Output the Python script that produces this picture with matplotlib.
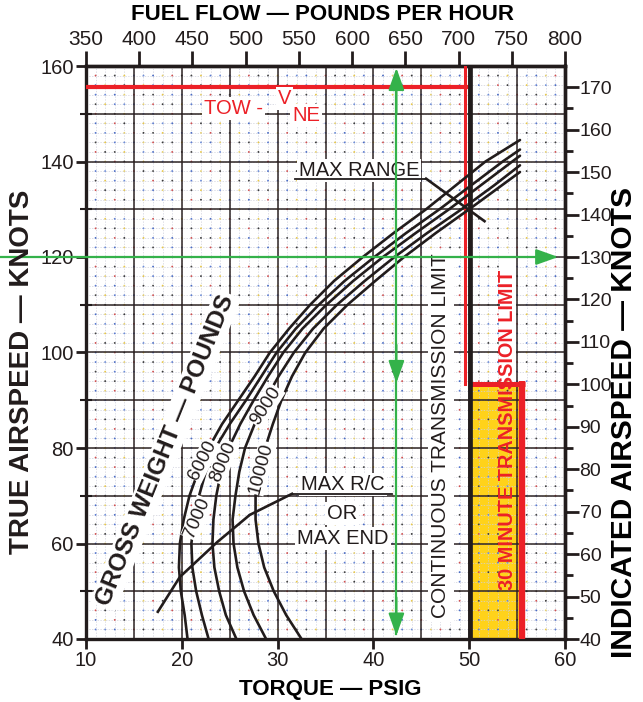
import matplotlib
matplotlib.use("Agg")
import matplotlib.pyplot as plt
import numpy as np
from matplotlib.patches import Rectangle

plt.rcParams['font.family'] = ['Liberation Sans', 'DejaVu Sans']

# ---------------- data ----------------
# gross-weight power curves: torque (psig) at each true airspeed (kt)
tas_6000 = [40, 45, 50, 55, 60, 65, 70, 75, 80, 85, 90, 95, 100, 105, 110, 115, 120, 125, 130, 135, 140, 144.5]
torque_6000 = [20.6, 20.3, 19.9, 19.7, 19.8, 20.2, 20.8, 21.7, 22.8, 24.2, 25.9, 27.6, 29.2, 31.2, 33.4, 35.9, 38.9, 42.1, 45.5, 48.6, 51.7, 55.3]
tas_7000 = [40, 45, 50, 55, 60, 65, 70, 75, 80, 85, 90, 95, 100, 105, 110, 115, 120, 125, 130, 135, 140, 142.5]
torque_7000 = [22.8, 22.1, 21.5, 21.1, 21.0, 21.3, 21.8, 22.5, 23.5, 25.0, 26.7, 28.3, 29.9, 31.9, 34.3, 37.0, 40.1, 43.4, 46.9, 50.2, 53.5, 55.3]
tas_8000 = [40, 45, 50, 55, 60, 65, 70, 75, 80, 85, 90, 95, 100, 105, 110, 115, 120, 125, 130, 135, 140, 141.2]
torque_8000 = [25.7, 24.6, 23.9, 23.4, 23.2, 23.3, 23.6, 24.1, 24.9, 26.1, 27.5, 29.0, 30.6, 32.6, 35.1, 37.9, 41.0, 44.4, 47.9, 51.2, 54.5, 55.3]
tas_9000 = [40, 45, 50, 55, 60, 65, 70, 75, 80, 85, 90, 95, 100, 105, 110, 115, 120, 125, 130, 135, 139.2]
torque_9000 = [28.8, 27.5, 26.5, 25.8, 25.4, 25.3, 25.6, 26.0, 26.6, 27.6, 28.7, 30.1, 31.7, 33.7, 36.2, 39.1, 42.2, 45.6, 49.2, 52.6, 55.3]
tas_10000 = [40, 45, 50, 55, 60, 65, 70, 75, 80, 85, 90, 95, 100, 105, 110, 115, 120, 125, 130, 135, 137.8]
torque_10000 = [32.5, 30.9, 29.6, 28.6, 28.0, 27.7, 27.7, 28.1, 28.7, 29.5, 30.4, 31.5, 32.9, 34.8, 37.3, 40.2, 43.2, 46.5, 50.0, 53.4, 55.3]

weight_labels = ["6000", "7000", "8000", "9000", "10000"]

# optimum-speed lines
max_rc_torque = [17.5, 19.8, 23.7, 27.1, 31.5]
max_rc_tas = [45.7, 53.0, 60.3, 66.0, 70.4]
max_range_torque = [45.5, 51.6]
max_range_tas = [136.4, 127.5]

# limits
vne_ias = 170
continuous_limit_torque = 50
thirty_min_limit_torque = 55.5
thirty_min_limit_ias = 100

# worked example
example_tas = 120
example_torque = 42.4

# axis ticks
torque_ticks = [10, 20, 30, 40, 50, 60]
tas_ticks = [40, 60, 80, 100, 120, 140, 160]
fuel_flow_ticks = [350, 400, 450, 500, 550, 600, 650, 700, 750, 800]
ias_ticks = [40, 50, 60, 70, 80, 90, 100, 110, 120, 130, 140, 150, 160, 170]


# scale conversions
def torque_to_ff(q):
    return 350 + 9.0 * (np.asarray(q) - 10)


def ff_to_torque(f):
    return 10 + (np.asarray(f) - 350) / 9.0


def tas_to_ias(t):
    return 40 + 1.125 * (np.asarray(t) - 40)


def ias_to_tas(i):
    return 40 + (np.asarray(i) - 40) / 1.125


INK = '#221c1c'
RED = '#ec2027'
GREEN = '#34b24a'
YELLOW = '#ffd21a'

fig = plt.figure(figsize=(6.43, 7.02), dpi=100)
ax = fig.add_axes([86 / 643, 63 / 702, 479 / 643, 573 / 702])
ax.set_xlim(10, 60)
ax.set_ylim(40, 160)

# ---- 30-minute transmission area ----
box_top = float(ias_to_tas(thirty_min_limit_ias))
ax.add_patch(Rectangle((continuous_limit_torque, 40), thirty_min_limit_torque - continuous_limit_torque,
                       box_top - 40, facecolor=YELLOW, edgecolor='none', zorder=0.5))

# ---- grid ----
for q in np.arange(10, 61, 1):
    ax.axvline(q, color='#cfd0dc', lw=0.5, ls=(0, (2, 2)), zorder=1)
for t in np.arange(40, 161, 2):
    ax.axhline(t, color='#cfd0dc', lw=0.5, ls=(0, (2, 2)), zorder=1)
gx, gy = np.meshgrid(np.arange(10, 61, 1), np.arange(40, 161, 2))
palette = np.array(['#3a3a3a', '#4a6cc4', '#e8c84a', '#d05050', '#6f8fd8', '#444444', '#e6d070', '#5b7bd0'])
idx = (np.arange(gx.size) * 5 + (np.arange(gx.size) // gx.shape[1]) * 3) % len(palette)
ax.scatter(gx.ravel(), gy.ravel(), s=1.8, c=palette[idx], marker='o', linewidths=0, zorder=1.2)
for q in np.arange(15, 60, 5):
    ax.axvline(q, color='#2e2424', lw=1.1, zorder=1.5)
for t in np.arange(50, 160, 10):
    ax.axhline(t, color='#2e2424', lw=1.1, zorder=1.5)

# ---- limit lines ----
vne_tas = float(ias_to_tas(vne_ias))
ax.plot([10, continuous_limit_torque], [vne_tas, vne_tas], color=RED, lw=3.0, zorder=3, solid_capstyle='butt')
ax.plot([continuous_limit_torque - 0.4] * 2, [box_top, 160], color=RED, lw=2.2, zorder=3)
ax.plot([continuous_limit_torque + 0.05] * 2, [40, 160], color=INK, lw=3.4, zorder=3.2)
ax.plot([continuous_limit_torque, thirty_min_limit_torque + 0.35], [box_top, box_top], color=RED, lw=3.6,
        zorder=3, solid_capstyle='butt')
ax.plot([thirty_min_limit_torque] * 2, [40, box_top + 0.6], color=RED, lw=4.6, zorder=3, solid_capstyle='butt')

# ---- gross-weight curves ----
curves = [(torque_6000, tas_6000), (torque_7000, tas_7000), (torque_8000, tas_8000),
          (torque_9000, tas_9000), (torque_10000, tas_10000)]
for q, t in curves:
    ax.plot(q, t, color=INK, lw=1.9, zorder=3, solid_capstyle='round')

ax.plot(max_rc_torque, max_rc_tas, color=INK, lw=1.9, zorder=3)
ax.plot(max_range_torque, max_range_tas, color=INK, lw=1.9, zorder=3)

# ---- example path (green) ----
arrow = dict(arrowstyle='-|>,head_length=0.9,head_width=0.32', color=GREEN, lw=1.6,
             mutation_scale=15, shrinkA=0, shrinkB=0)
ax.annotate('', xy=(59.3, example_tas), xytext=(1.0, example_tas), xycoords='data',
            arrowprops=arrow, annotation_clip=False, zorder=5)
ax.plot([example_torque] * 2, [41, 156], color=GREEN, lw=1.6, zorder=5)
ax.annotate('', xy=(example_torque, 159.6), xytext=(example_torque, 150), xycoords='data',
            arrowprops=arrow, zorder=5)
for tip in (93.6, 40.7):
    ax.annotate('', xy=(example_torque, tip), xytext=(example_torque, tip + 8), xycoords='data',
                arrowprops=arrow, zorder=5)

# ---- annotations ----
white = dict(facecolor='white', edgecolor='none', pad=1.5)
ax.text(25.4, 151.2, 'TOW -', color=RED, fontsize=14.5, ha='center', va='center', bbox=white, zorder=4)
ax.text(30.7, 153.1, 'V', color=RED, fontsize=14.5, ha='center', va='center', bbox=white, zorder=4)
ax.text(33.0, 149.7, 'NE', color=RED, fontsize=14.5, ha='center', va='center', bbox=white, zorder=4)

ax.text(38.5, 138.2, 'MAX RANGE', color=INK, fontsize=14.5, ha='center', va='center', bbox=white, zorder=4)
ax.plot([31.8, 45.5], [136.4, 136.4], color=INK, lw=1.3, zorder=4.5)

ax.text(36.8, 72.3, 'MAX R/C', color=INK, fontsize=14.5, ha='center', va='center', bbox=white, zorder=4)
ax.plot([31.5, 41.9], [70.4, 70.4], color=INK, lw=1.3, zorder=4.5)
ax.text(36.7, 66.3, 'OR', color=INK, fontsize=14.5, ha='center', va='center', bbox=white, zorder=4)
ax.text(36.8, 61.0, 'MAX END', color=INK, fontsize=14.5, ha='center', va='center', bbox=white, zorder=4)

ax.text(47.05, 82.5, 'CONTINUOUS TRANSMISSION LIMIT', color=INK, fontsize=15, rotation=90,
        ha='center', va='center', bbox=dict(facecolor='white', edgecolor='none', pad=2.5), zorder=4)
# clear strip behind the part of the red caption that sits above the yellow area
ax.add_patch(Rectangle((53.25, box_top + 0.8), 1.6, 26.5, facecolor='white', edgecolor='none', zorder=2))
ax.text(54.05, 83.8, '30 MINUTE TRANSMISSION LIMIT', color=RED, fontsize=14.3, fontweight='bold',
        rotation=90, ha='center', va='center', zorder=4)

ax.text(18.3, 79.6, 'GROSS WEIGHT \u2014 POUNDS', color=INK, fontsize=17.5, fontweight='bold', rotation=68,
        ha='center', va='center', rotation_mode='anchor', bbox=white, zorder=4)

label_pos = [(22.2, 77.5, 63), (21.6, 65.3, 67), (24.3, 77.1, 67), (28.8, 88.8, 57), (28.3, 75.8, 75)]
for txt, (lq, lt, rot) in zip(weight_labels, label_pos):
    ax.text(lq, lt, txt, color=INK, fontsize=13.5, rotation=rot, ha='center', va='center',
            rotation_mode='anchor', bbox=dict(facecolor='white', edgecolor='none', pad=0.5), zorder=4)

# ---- axes and ticks ----
for s in ax.spines.values():
    s.set_linewidth(2.4)
    s.set_color(INK)
ax.set_xticks(torque_ticks)
ax.set_yticks(tas_ticks)
ax.set_yticks(np.arange(50, 160, 20), minor=True)
ax.tick_params(axis='both', which='major', direction='out', length=7, width=2, colors=INK,
               labelsize=14.5, pad=2)
ax.tick_params(axis='y', which='minor', direction='inout', length=8, width=1.5, colors=INK)

top = ax.secondary_xaxis('top', functions=(torque_to_ff, ff_to_torque))
top.set_xticks(fuel_flow_ticks)
top.tick_params(direction='out', length=11, width=2, colors=INK, labelsize=15, pad=1)
top.spines['top'].set_linewidth(2.4)

right = ax.secondary_yaxis('right', functions=(tas_to_ias, ias_to_tas))
right.set_yticks(ias_ticks)
right.set_yticks(np.arange(45, 175, 10), minor=True)
right.tick_params(which='major', direction='out', length=10, width=2, colors=INK, labelsize=14, pad=0.5)
right.tick_params(which='minor', direction='out', length=6, width=2, colors=INK)
right.spines['right'].set_linewidth(2.4)

# axis titles
fig.text(322 / 643, 1 - 15 / 702, 'FUEL FLOW \u2014 POUNDS PER HOUR', fontsize=16, fontweight='bold',
         ha='center', va='center', color='black')
fig.text(330 / 643, 1 - 690 / 702, 'TORQUE \u2014 PSIG', fontsize=16, fontweight='bold',
         ha='center', va='center', color='black')
fig.text(22 / 643, 1 - 372 / 702, 'TRUE AIRSPEED \u2014 KNOTS', fontsize=20, fontweight='bold',
         rotation=90, ha='center', va='center', color=INK)
fig.text(624 / 643, 1 - 422 / 702, 'INDICATED AIRSPEED \u2014 KNOTS', fontsize=21.5, fontweight='bold',
         rotation=90, ha='center', va='center', color='black')

fig.savefig('out.png', dpi=100, facecolor='white')
